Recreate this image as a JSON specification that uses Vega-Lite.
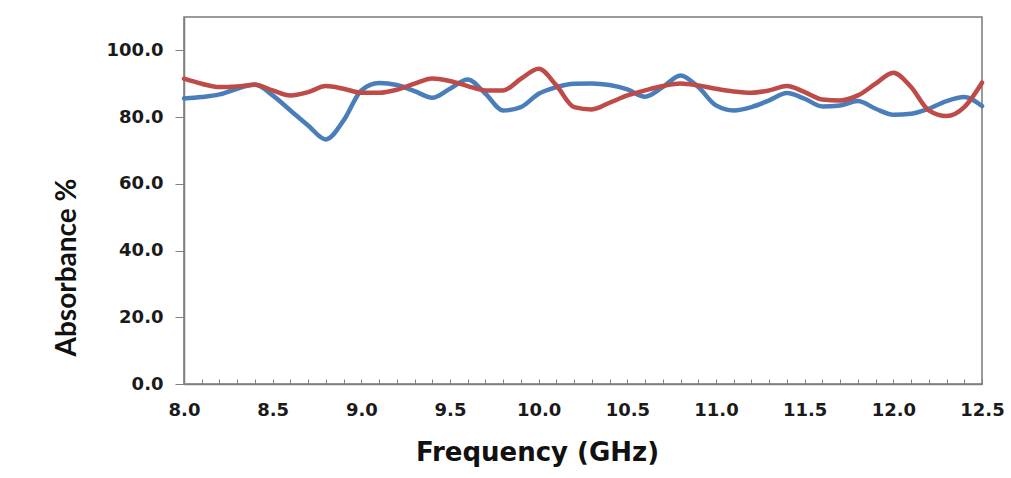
{
  "$schema": "https://vega.github.io/schema/vega-lite/v6.json",
  "width": 798,
  "height": 367,
  "autosize": {"type": "none"},
  "padding": {"left": 184, "top": 17, "right": 29, "bottom": 94},
  "background": "white",
  "config": {"view": {"stroke": "#7a7a7a", "strokeWidth": 1.5}},
  "data": {"values": [
    {"f":8.0,"a":85.6,"s":"S1"},{"f":8.1,"a":86.0,"s":"S1"},{"f":8.2,"a":86.8,"s":"S1"},{"f":8.3,"a":88.5,"s":"S1"},{"f":8.4,"a":89.8,"s":"S1"},
    {"f":8.5,"a":86.5,"s":"S1"},{"f":8.6,"a":82.0,"s":"S1"},{"f":8.7,"a":77.5,"s":"S1"},{"f":8.8,"a":73.3,"s":"S1"},{"f":8.9,"a":79.0,"s":"S1"},
    {"f":9.0,"a":88.0,"s":"S1"},{"f":9.1,"a":90.2,"s":"S1"},{"f":9.2,"a":89.6,"s":"S1"},{"f":9.3,"a":87.8,"s":"S1"},{"f":9.4,"a":85.8,"s":"S1"},
    {"f":9.5,"a":88.5,"s":"S1"},{"f":9.6,"a":91.3,"s":"S1"},{"f":9.7,"a":87.0,"s":"S1"},{"f":9.8,"a":82.0,"s":"S1"},{"f":9.9,"a":83.0,"s":"S1"},
    {"f":10.0,"a":87.0,"s":"S1"},{"f":10.1,"a":89.0,"s":"S1"},{"f":10.2,"a":90.0,"s":"S1"},{"f":10.3,"a":90.1,"s":"S1"},{"f":10.4,"a":89.6,"s":"S1"},
    {"f":10.5,"a":88.3,"s":"S1"},{"f":10.6,"a":86.1,"s":"S1"},{"f":10.7,"a":89.0,"s":"S1"},{"f":10.8,"a":92.5,"s":"S1"},{"f":10.9,"a":89.0,"s":"S1"},
    {"f":11.0,"a":83.5,"s":"S1"},{"f":11.1,"a":82.0,"s":"S1"},{"f":11.2,"a":83.0,"s":"S1"},{"f":11.3,"a":85.0,"s":"S1"},{"f":11.4,"a":87.2,"s":"S1"},
    {"f":11.5,"a":85.5,"s":"S1"},{"f":11.6,"a":83.2,"s":"S1"},{"f":11.7,"a":83.5,"s":"S1"},{"f":11.8,"a":84.8,"s":"S1"},{"f":11.9,"a":82.5,"s":"S1"},
    {"f":12.0,"a":80.7,"s":"S1"},{"f":12.1,"a":81.0,"s":"S1"},{"f":12.2,"a":82.5,"s":"S1"},{"f":12.3,"a":84.8,"s":"S1"},{"f":12.4,"a":86.0,"s":"S1"},
    {"f":12.5,"a":83.3,"s":"S1"},
    {"f":8.0,"a":91.5,"s":"S2"},{"f":8.1,"a":90.0,"s":"S2"},{"f":8.2,"a":89.0,"s":"S2"},{"f":8.3,"a":89.2,"s":"S2"},{"f":8.4,"a":89.7,"s":"S2"},
    {"f":8.5,"a":88.0,"s":"S2"},{"f":8.6,"a":86.5,"s":"S2"},{"f":8.7,"a":87.5,"s":"S2"},{"f":8.8,"a":89.3,"s":"S2"},{"f":8.9,"a":88.5,"s":"S2"},
    {"f":9.0,"a":87.3,"s":"S2"},{"f":9.1,"a":87.3,"s":"S2"},{"f":9.2,"a":88.2,"s":"S2"},{"f":9.3,"a":90.0,"s":"S2"},{"f":9.4,"a":91.6,"s":"S2"},
    {"f":9.5,"a":90.8,"s":"S2"},{"f":9.6,"a":89.3,"s":"S2"},{"f":9.7,"a":88.0,"s":"S2"},{"f":9.8,"a":88.0,"s":"S2"},{"f":9.9,"a":91.5,"s":"S2"},
    {"f":10.0,"a":94.5,"s":"S2"},{"f":10.1,"a":89.5,"s":"S2"},{"f":10.2,"a":83.0,"s":"S2"},{"f":10.3,"a":82.3,"s":"S2"},{"f":10.4,"a":84.3,"s":"S2"},
    {"f":10.5,"a":86.5,"s":"S2"},{"f":10.6,"a":88.0,"s":"S2"},{"f":10.7,"a":89.3,"s":"S2"},{"f":10.8,"a":90.1,"s":"S2"},{"f":10.9,"a":89.5,"s":"S2"},
    {"f":11.0,"a":88.5,"s":"S2"},{"f":11.1,"a":87.7,"s":"S2"},{"f":11.2,"a":87.3,"s":"S2"},{"f":11.3,"a":88.0,"s":"S2"},{"f":11.4,"a":89.3,"s":"S2"},
    {"f":11.5,"a":87.5,"s":"S2"},{"f":11.6,"a":85.3,"s":"S2"},{"f":11.7,"a":85.0,"s":"S2"},{"f":11.8,"a":86.5,"s":"S2"},{"f":11.9,"a":90.0,"s":"S2"},
    {"f":12.0,"a":93.3,"s":"S2"},{"f":12.1,"a":89.0,"s":"S2"},{"f":12.2,"a":82.0,"s":"S2"},{"f":12.3,"a":80.3,"s":"S2"},{"f":12.4,"a":83.0,"s":"S2"},
    {"f":12.5,"a":90.3,"s":"S2"}
  ]},
  "encoding": {
    "y": {
      "field": "a", "type": "quantitative",
      "scale": {"domain": [0, 110], "nice": false},
      "axis": {
        "title": "Absorbance %",
        "values": [0, 20, 40, 60, 80, 100],
        "format": ".1f",
        "grid": false,
        "domainColor": "#808080", "domainWidth": 1.5,
        "tickColor": "#808080", "tickWidth": 1, "tickSize": 9,
        "labelFont": "DejaVu Sans", "labelFontWeight": "bold", "labelFontSize": 18, "labelColor": "#1a1a1a",
        "labelPadding": 12,
        "titleFont": "Lato", "titleFontWeight": "bold", "titleFontSize": 28, "titleColor": "#111111",
        "titleX": -117, "titleY": 250, "titleBaseline": "middle", "titleAlign": "center", "titleAngle": -90
      }
    },
    "color": {
      "field": "s", "type": "nominal",
      "scale": {"domain": ["S1", "S2"], "range": ["#4A7EBB", "#BE4B48"]},
      "legend": null
    }
  },
  "layer": [
    {
      "transform": [{"filter": "datum.s === 'S1'"}],
      "mark": {"type": "line", "interpolate": "monotone", "strokeWidth": 4.5, "strokeCap": "round"},
      "encoding": {
        "x": {
          "field": "f", "type": "quantitative",
          "scale": {"domain": [8.0, 12.5], "nice": false, "zero": false},
          "axis": {
            "title": "Frequency (GHz)",
            "values": [8.0, 8.5, 9.0, 9.5, 10.0, 10.5, 11.0, 11.5, 12.0, 12.5],
            "format": ".1f",
            "grid": false,
            "ticks": false,
            "domainColor": "#808080", "domainWidth": 1.5,
            "labelFont": "DejaVu Sans", "labelFontWeight": "bold", "labelFontSize": 18, "labelColor": "#1a1a1a",
            "labelPadding": 26, "labelOverlap": false, "labelFlush": false, "labelBaseline": "middle",
            "titleFont": "DejaVu Sans", "titleFontWeight": "bold", "titleFontSize": 26, "titleColor": "#111111",
            "titleX": 353, "titleY": 68, "titleBaseline": "middle", "titleAlign": "center"
          }
        }
      }
    },
    {
      "transform": [{"filter": "datum.s === 'S2'"}],
      "mark": {"type": "line", "interpolate": "monotone", "strokeWidth": 4.5, "strokeCap": "round"},
      "encoding": {
        "x": {
          "field": "f", "type": "quantitative",
          "axis": {
            "orient": "bottom",
            "offset": -5,
            "title": null,
            "labels": false,
            "domain": false,
            "grid": false,
            "values": [8.0,8.1,8.2,8.3,8.4,8.5,8.6,8.7,8.8,8.9,9.0,9.1,9.2,9.3,9.4,9.5,9.6,9.7,9.8,9.9,10.0,10.1,10.2,10.3,10.4,10.5,10.6,10.7,10.8,10.9,11.0,11.1,11.2,11.3,11.4,11.5,11.6,11.7,11.8,11.9,12.0,12.1,12.2,12.3,12.4,12.5],
            "tickColor": "#808080", "tickWidth": 1, "tickSize": 5
          }
        }
      }
    }
  ],
  "resolve": {"axis": {"x": "independent"}}
}
